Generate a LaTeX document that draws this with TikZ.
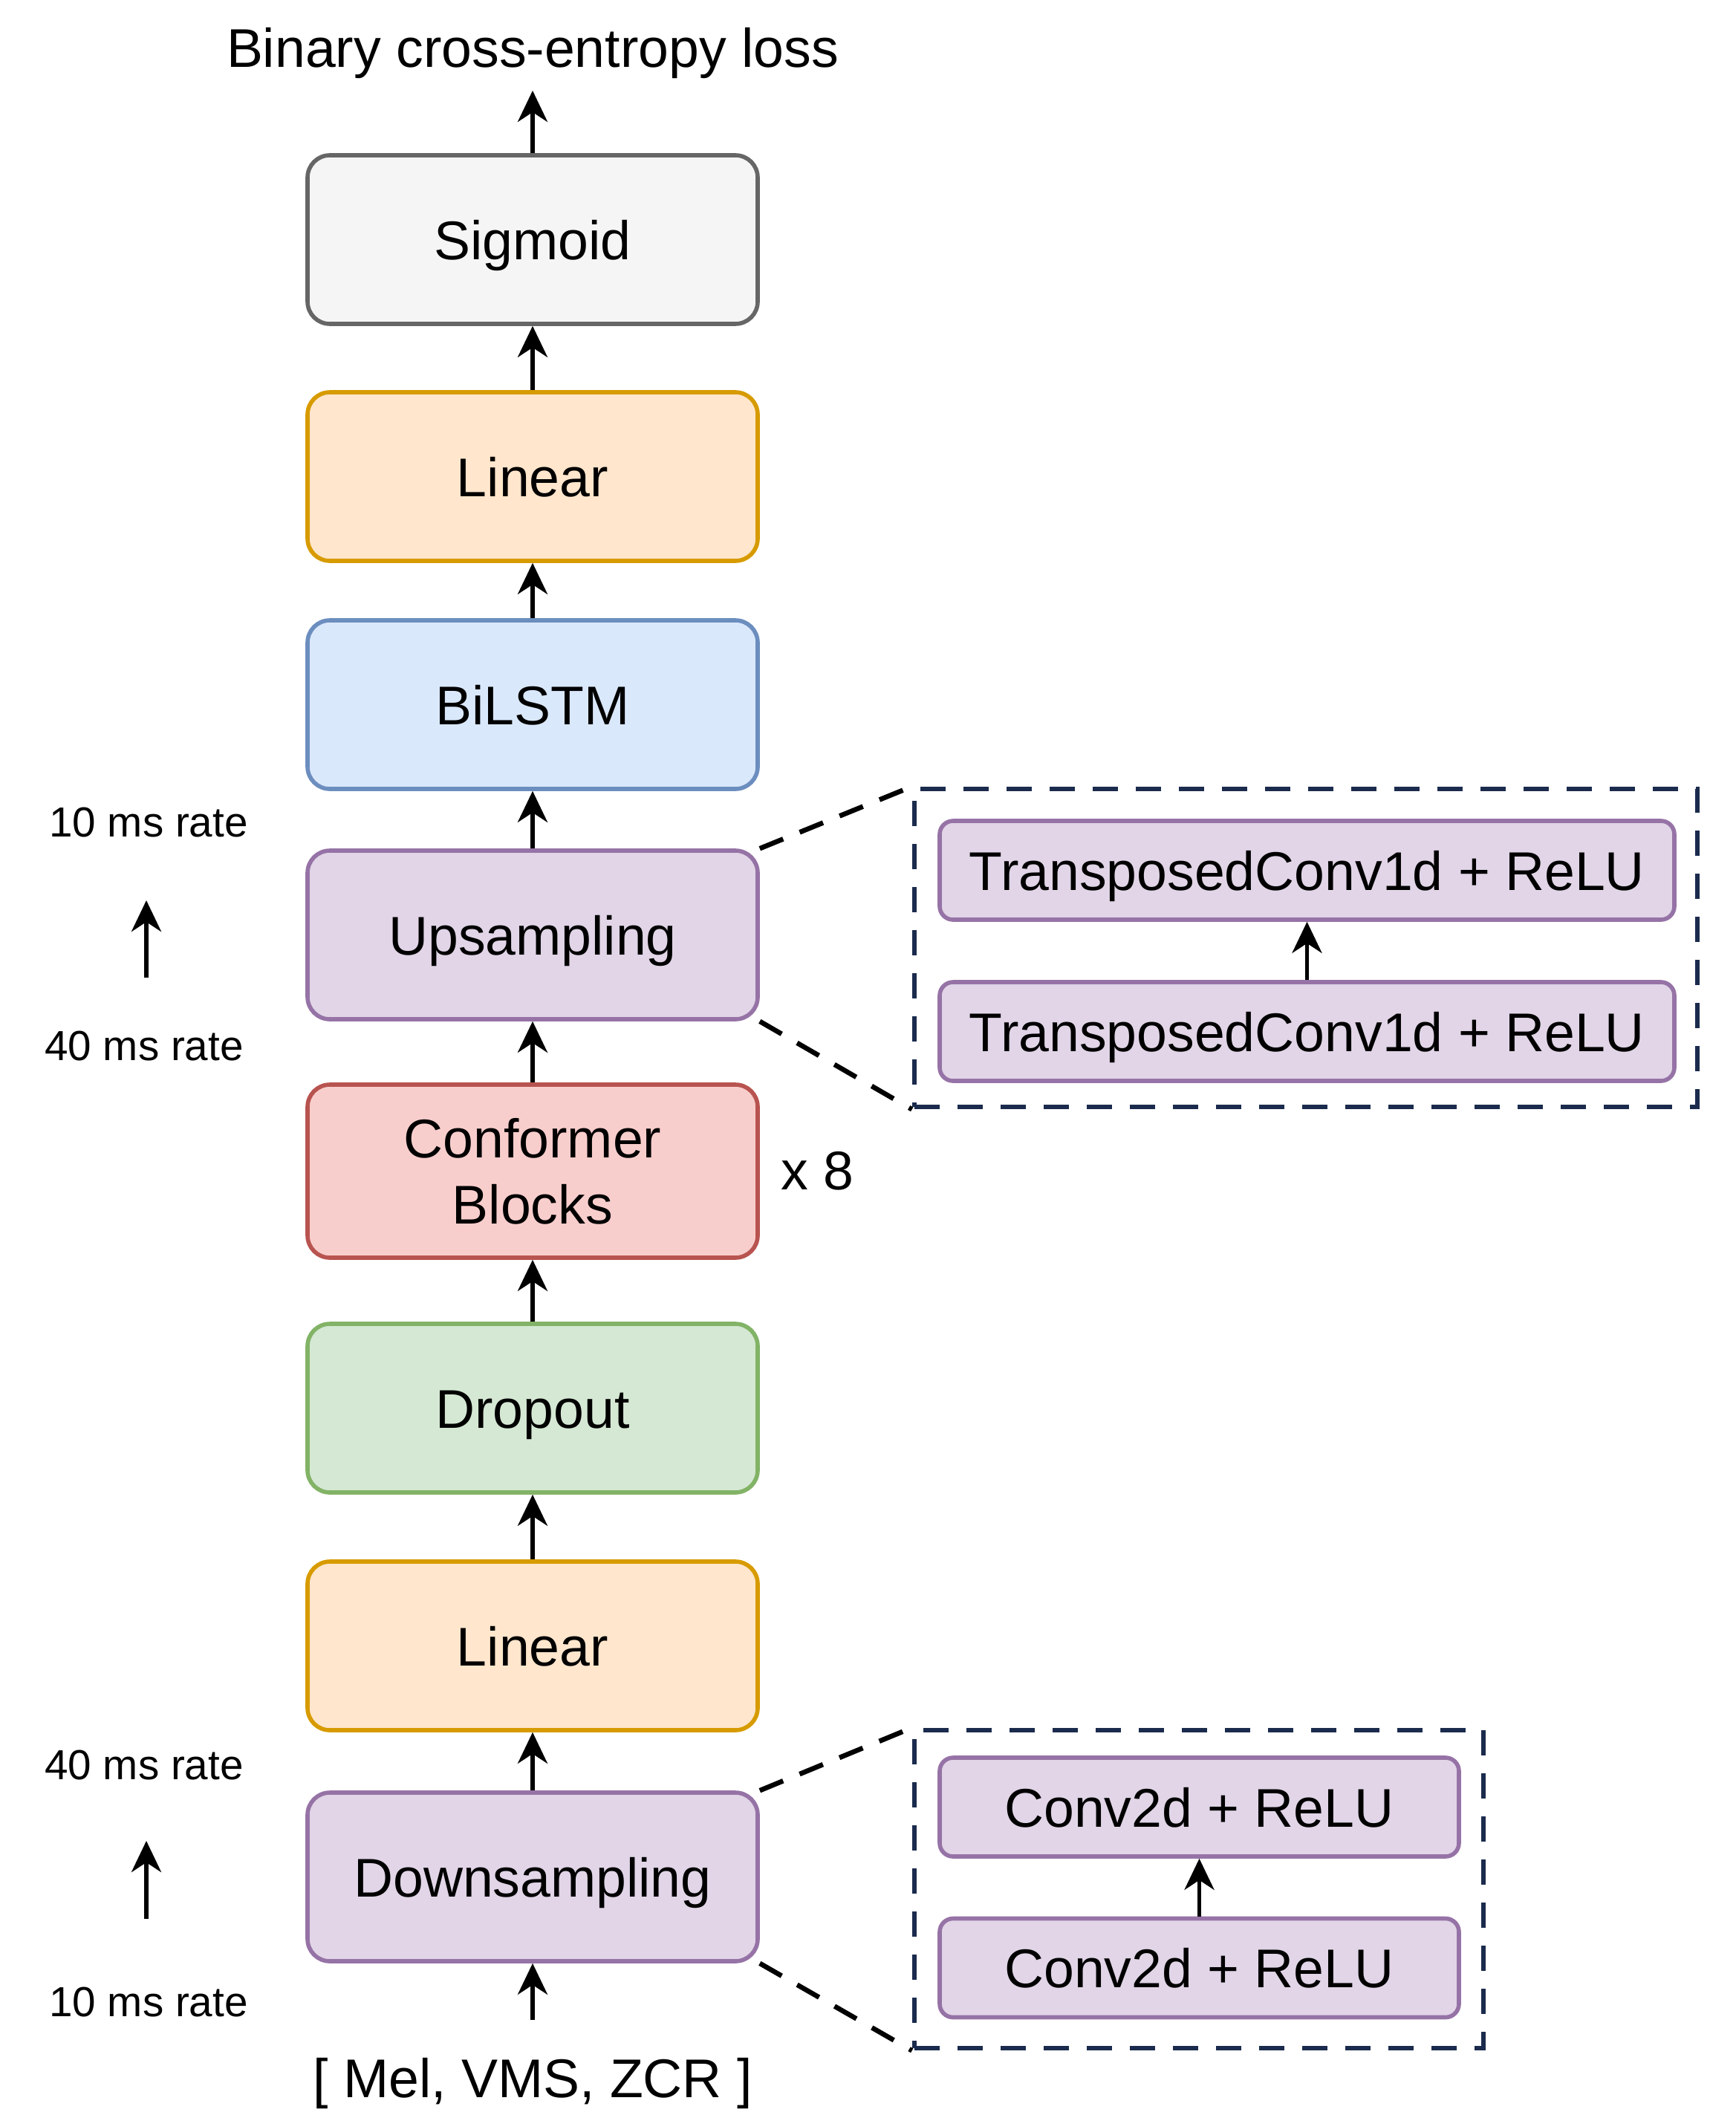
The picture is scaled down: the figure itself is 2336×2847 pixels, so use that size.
\documentclass[tikz,border=0pt]{standalone}
\usepackage{fontspec}
\setmainfont{Liberation Sans}
\usetikzlibrary{arrows.meta,calc}

\definecolor{grayfill}{HTML}{F5F5F5}   \definecolor{graydraw}{HTML}{666666}
\definecolor{orangefill}{HTML}{FFE6CC} \definecolor{orangedraw}{HTML}{D79B00}
\definecolor{bluefill}{HTML}{DAE8FC}   \definecolor{bluedraw}{HTML}{6C8EBF}
\definecolor{purplefill}{HTML}{E1D5E7} \definecolor{purpledraw}{HTML}{9673A6}
\definecolor{redfill}{HTML}{F8CECC}    \definecolor{reddraw}{HTML}{B85450}
\definecolor{greenfill}{HTML}{D5E8D4}  \definecolor{greendraw}{HTML}{82B366}
\definecolor{navy}{HTML}{1B2B4D}

\begin{document}
\begin{tikzpicture}[x=0.5pt,y=-0.5pt,
  bigfont/.style={font=\fontsize{36.7}{44.5}\selectfont},
  smallfont/.style={font=\fontsize{28.3}{34}\selectfont},
  block/.style={draw, rounded corners=15pt, line width=2.8pt,
    minimum width=303pt, minimum height=113.5pt, inner sep=0pt,
    align=center, bigfont},
  oneline/.style={text height=26.5pt, text depth=0pt},
  subblock/.style={block, oneline, rounded corners=9pt, minimum height=66.5pt},
  gray box/.style={block, oneline, fill=grayfill, draw=graydraw},
  orange box/.style={block, oneline, fill=orangefill, draw=orangedraw},
  blue box/.style={block, oneline, fill=bluefill, draw=bluedraw},
  purple box/.style={block, oneline, fill=purplefill, draw=purpledraw},
  red box/.style={block, fill=redfill, draw=reddraw},
  green box/.style={block, oneline, fill=greenfill, draw=greendraw},
  detail/.style={draw=navy, line width=3.3pt, dash pattern=on 17pt off 12pt,
    inner sep=0pt},
  zoomline/.style={draw=black, line width=3.3pt, dash pattern=on 17pt off 12pt},
  flow/.style={-{Stealth[length=21pt,width=20pt,inset=6.5pt]}, line width=2.8pt},
  plain/.style={inner sep=0pt}]

\useasboundingbox (0,0) rectangle (2336,2847);

% main pipeline, bottom to top
\node[plain, bigfont] (input) at (717,2804) {[ Mel, VMS, ZCR ]};
\coordinate (inputtop) at (717,2719);
\node[purple box] (down)    at (717,2526.5) {Downsampling};
\node[orange box] (lin1)    at (717,2215.5) {Linear};
\node[green box]  (drop)    at (717,1895.5) {Dropout};
\node[red box, minimum height=116.5pt] (conf) at (717,1576.5) {Conformer\\Blocks};
\node[purple box] (up)      at (717,1258.5) {Upsampling};
\node[blue box]   (lstm)    at (717,948.5)  {BiLSTM};
\node[orange box] (lin2)    at (717,641.5)  {Linear};
\node[gray box]   (sig)     at (717,322.5)  {Sigmoid};
\coordinate (losspoint) at (717,122);
\node[plain, bigfont] (loss) at (717,72) {Binary cross-entropy loss};

\node[plain, bigfont] (times) at (1100,1576) {x 8};

\draw[flow] (inputtop) -- (down);
\draw[flow] (down) -- (lin1);
\draw[flow] (lin1) -- (drop);
\draw[flow] (drop) -- (conf);
\draw[flow] (conf) -- (up);
\draw[flow] (up) -- (lstm);
\draw[flow] (lstm) -- (lin2);
\draw[flow] (lin2) -- (sig);
\draw[flow] (sig) -- (losspoint);

% frame-rate annotations
\node[plain, smallfont] (rateA) at (200,1107) {10 ms rate};
\node[plain, smallfont] (rateB) at (194,1408) {40 ms rate};
\coordinate (rateBtop) at (197,1316);
\coordinate (rateAbot) at (197,1212);
\draw[flow] (rateBtop) -- (rateAbot);

\node[plain, smallfont] (rateC) at (194,2376) {40 ms rate};
\node[plain, smallfont] (rateD) at (200,2695) {10 ms rate};
\coordinate (rateDtop) at (197,2583);
\coordinate (rateCbot) at (197,2478);
\draw[flow] (rateDtop) -- (rateCbot);

% upsampling detail
\node[detail, minimum width=527pt, minimum height=214pt] (upbox) at (1758,1276) {};
\node[subblock, fill=purplefill, draw=purpledraw, minimum width=494.5pt] (tc2) at (1759.5,1171.5) {TransposedConv1d + ReLU};
\node[subblock, fill=purplefill, draw=purpledraw, minimum width=494.5pt] (tc1) at (1759.5,1388.5) {TransposedConv1d + ReLU};
\draw[flow] (tc1) -- (tc2);
\draw[zoomline] (up.north east) -- (upbox.north west);
\draw[zoomline] (up.south east) -- (upbox.south west);

% downsampling detail
\node[detail, minimum width=383pt, minimum height=214pt] (downbox) at (1614,2543) {};
\node[subblock, fill=purplefill, draw=purpledraw, minimum width=349.5pt] (cv2) at (1614.5,2432.5) {Conv2d + ReLU};
\node[subblock, fill=purplefill, draw=purpledraw, minimum width=349.5pt] (cv1) at (1614.5,2649) {Conv2d + ReLU};
\draw[flow] (cv1) -- (cv2);
\draw[zoomline] (down.north east) -- (downbox.north west);
\draw[zoomline] (down.south east) -- (downbox.south west);

\end{tikzpicture}
\end{document}
